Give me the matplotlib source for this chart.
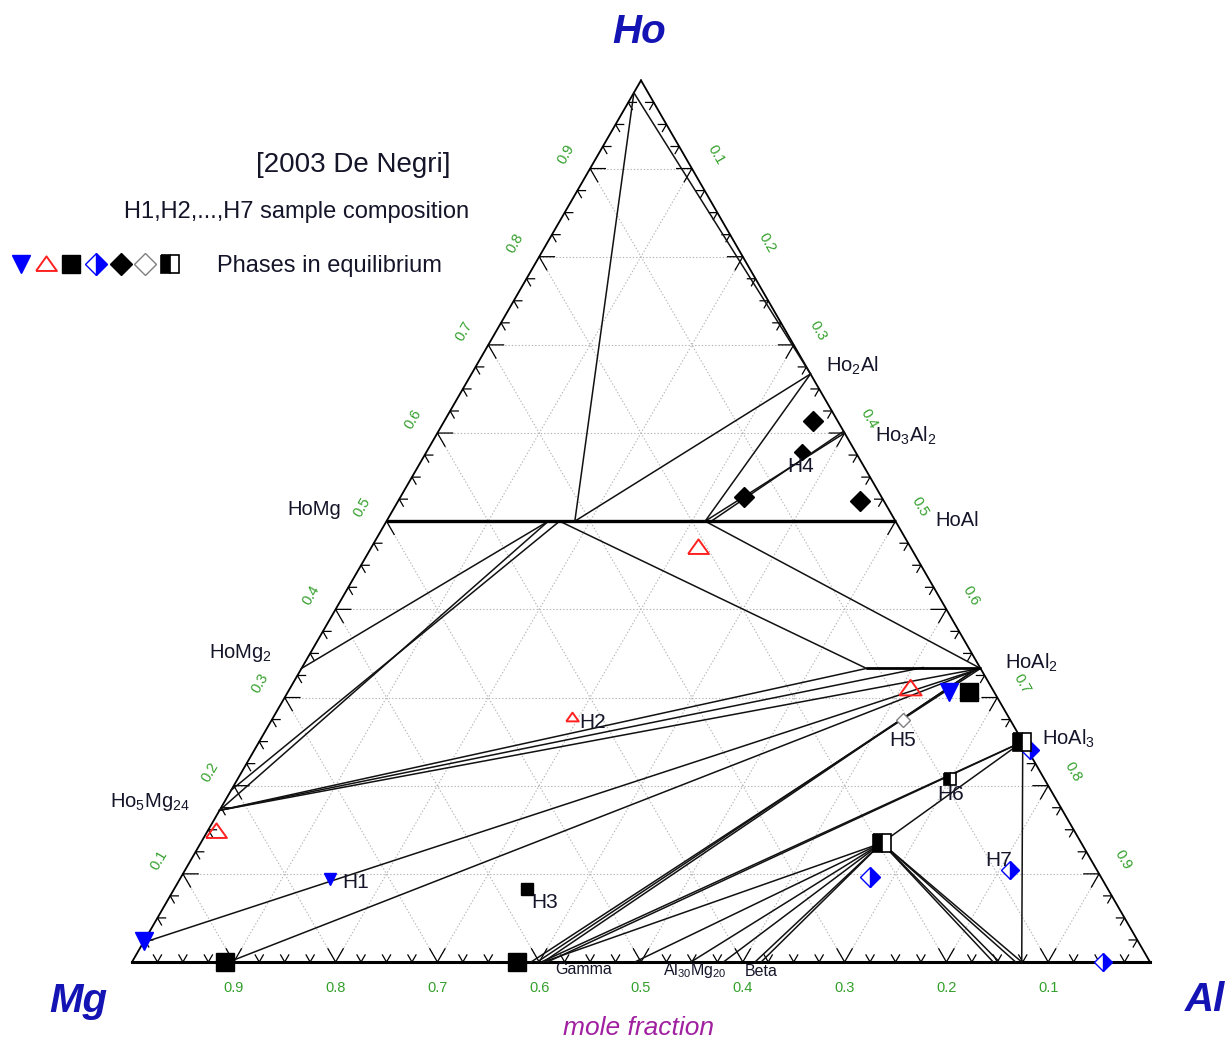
import numpy as np
import matplotlib
matplotlib.use("Agg")
import matplotlib.pyplot as plt
from matplotlib.lines import Line2D
from matplotlib.legend_handler import HandlerTuple

plt.rcParams['font.family'] = ['Liberation Sans', 'DejaVu Sans']
plt.rcParams['mathtext.default'] = 'regular'

# ---------------- data: compositions as (x_Ho, x_Al); x_Mg = 1 - x_Ho - x_Al ----------------
tick_values = [0.1, 0.2, 0.3, 0.4, 0.5, 0.6, 0.7, 0.8, 0.9]
tick_labels = ["0.1", "0.2", "0.3", "0.4", "0.5", "0.6", "0.7", "0.8", "0.9"]

# tie lines: from (ho, al) -> to (ho, al)
tie_from_ho = [0.986, 0.986, 0.667, 0.667, 0.500, 0.500, 0.500, 0.500, 0.333, 0.172, 0.195,
               0.172, 0.172, 0.172, 0.022, 0.000, 0.000, 0.000, 0.000, 0.000, 0.000, 0.000,
               0.000, 0.000, 0.000, 0.000, 0.000, 0.135, 0.135, 0.135, 0.135, 0.135, 0.250]
tie_from_al = [0.000, 0.000, 0.333, 0.333, 0.313, 0.319, 0.170, 0.313, 0.000, 0.000, 0.000,
               0.000, 0.000, 0.000, 0.000, 0.095, 0.392, 0.398, 0.404, 0.402, 0.408, 0.404,
               0.494, 0.549, 0.581, 0.612, 0.618, 0.669, 0.669, 0.669, 0.669, 0.669, 0.750]
tie_to_ho = [0.667, 0.500, 0.500, 0.500, 0.600, 0.602, 0.333, 0.333, 0.500, 0.500, 0.500,
             0.333, 0.334, 0.333, 0.333, 0.333, 0.333, 0.333, 0.331, 0.250, 0.249, 0.135,
             0.135, 0.135, 0.135, 0.135, 0.135, 0.250, 0.000, 0.000, 0.000, 0.000, 0.000]
tie_to_al = [0.333, 0.185, 0.185, 0.313, 0.400, 0.398, 0.555, 0.667, 0.159, 0.159, 0.170,
             0.555, 0.610, 0.667, 0.667, 0.667, 0.667, 0.664, 0.662, 0.750, 0.749, 0.669,
             0.669, 0.669, 0.669, 0.669, 0.669, 0.750, 0.846, 0.852, 0.868, 0.874, 0.874]

# bold phase-boundary lines (solid-solution ranges)
bold_from_ho = [0.500, 0.333]
bold_from_al = [0.000, 0.555]
bold_to_ho = [0.500, 0.333]
bold_to_al = [0.500, 0.667]

# experimental phases in equilibrium
blue_down_ho = [0.094, 0.024, 0.306]
blue_down_al = [0.1475, 0.000, 0.650]
red_up_ho = [0.4705, 0.311, 0.278, 0.1485]
red_up_al = [0.321, 0.609, 0.293, 0.008]
black_sq_ho = [0.000, 0.000, 0.0828, 0.306]
black_sq_al = [0.091, 0.378, 0.347, 0.669]
blue_half_ho = [0.0964, 0.104, 0.000, 0.2404]
blue_half_al = [0.677, 0.810, 0.954, 0.762]
black_dia_ho = [0.6134, 0.578, 0.527, 0.5227]
black_dia_al = [0.362, 0.369, 0.338, 0.454]
open_dia_ho = [0.274]
open_dia_al = [0.620]
half_sq_ho = [0.2494, 0.2075, 0.135]
half_sq_al = [0.750, 0.700, 0.669]

# marker sizes (style)
blue_down_ms = [9, 13, 13]
red_up_ms = [15, 16, 9, 15]
black_sq_ms = [12.5, 12.5, 9, 13.5]
blue_half_ms = [10.5, 9, 9.5, 9.5]
black_dia_ms = [10.5, 8, 10.5, 10.5]
open_dia_ms = [7]
half_sq_ms = [13.5, 8.5, 13.5]

# ---------------- geometry ----------------
S3 = np.sqrt(3) / 2


def cart(ho, al):
    ho = np.asarray(ho, float)
    al = np.asarray(al, float)
    return al + ho / 2, ho * S3


def px(x, y):
    return (x - 132) / 1018, (962 - y) / 1018


fig = plt.figure(figsize=(12.3, 10.44), dpi=100)
ax = fig.add_axes([0, 0, 1, 1])
ax.set_xlim(-132 / 1018, 1098 / 1018)
ax.set_ylim(-82 / 1018, 962 / 1018)
ax.set_aspect('equal')
ax.axis('off')

# grid
gcol = '#b4b4b4'
for v in tick_values:
    for (h1, a1, h2, a2) in [(v, 0, v, 1 - v), (0, v, 1 - v, v), (0, 1 - v, 1 - v, 0)]:
        x, y = cart([h1, h2], [a1, a2])
        ax.plot(x, y, color=gcol, lw=0.8, ls=(0, (1.2, 1.8)), zorder=1)

# edges
x, y = cart([0, 1], [0, 0])
ax.plot(x, y, color='black', lw=1.3, zorder=3)
x, y = cart([1, 0], [0, 1])
ax.plot(x, y, color='black', lw=1.3, zorder=3)
x, y = cart([0, 0], [0, 1])
ax.plot(x, y, color='black', lw=2.2, zorder=3)

# ticks
c60, s60 = 0.5, S3
for k in range(1, 40):
    v = k * 0.025
    L = 0.0150 if k % 4 == 0 else 0.0080
    bx, by = cart(0, v)
    ax.plot([bx - L * c60, bx, bx + L * c60], [by + L * s60, by, by + L * s60], color='black', lw=0.9, zorder=3)
    lx, ly = cart(v, 0)
    ax.plot([lx + L, lx, lx + L * c60], [ly, ly, ly - L * s60], color='black', lw=0.9, zorder=3)
    rx, ry = cart(v, 1 - v)
    ax.plot([rx - L, rx, rx - L * c60], [ry, ry, ry - L * s60], color='black', lw=0.9, zorder=3)

# tick labels
tcol = '#34a02c'
off = 0.0275
for v, lab in zip(tick_values, tick_labels):
    x0, y0 = cart(0, 1 - v)
    ax.text(x0, y0 - 0.0255, lab, color=tcol, fontsize=10.5, ha='center', va='center')
    x0, y0 = cart(v, 0)
    ax.text(x0 - off * S3, y0 + off * 0.5, lab, color=tcol, fontsize=10.5, ha='center', va='center', rotation=60)
    x0, y0 = cart(1 - v, v)
    ax.text(x0 + off * S3, y0 + off * 0.5, lab, color=tcol, fontsize=10.5, ha='center', va='center', rotation=-60)

# tie lines
for h1, a1, h2, a2 in zip(tie_from_ho, tie_from_al, tie_to_ho, tie_to_al):
    x, y = cart([h1, h2], [a1, a2])
    ax.plot(x, y, color='#111111', lw=1.1, zorder=4)
for h1, a1, h2, a2, w in zip(bold_from_ho, bold_from_al, bold_to_ho, bold_to_al, [2.4, 2.0]):
    x, y = cart([h1, h2], [a1, a2])
    ax.plot(x, y, color='black', lw=w, zorder=4, solid_capstyle='butt')

# markers
tri_up = [(-1, -0.62), (1, -0.62), (0, 0.78), (-1, -0.62)]


def draw(hos, als, sizes, **kw):
    for h, a, s in zip(hos, als, sizes):
        x, y = cart(h, a)
        ax.plot([x], [y], ls='none', markersize=s, zorder=6, **kw)


draw(blue_down_ho, blue_down_al, blue_down_ms, marker='v', color='#0000ff', markeredgecolor='#0000ff')
draw(red_up_ho, red_up_al, red_up_ms, marker=tri_up, markerfacecolor='none', markeredgecolor='#ff2020', markeredgewidth=1.4)
draw(black_sq_ho, black_sq_al, black_sq_ms, marker='s', color='black')
draw(blue_half_ho, blue_half_al, blue_half_ms, marker='D', fillstyle='right', markerfacecolor='#0000ff',
     markerfacecoloralt='white', markeredgecolor='#0000ff', markeredgewidth=1.0)
draw(black_dia_ho, black_dia_al, black_dia_ms, marker='D', color='black')
draw(open_dia_ho, open_dia_al, open_dia_ms, marker='D', markerfacecolor='white', markeredgecolor='#808080', markeredgewidth=1.0)
draw(half_sq_ho, half_sq_al, half_sq_ms, marker='s', fillstyle='left', markerfacecolor='black',
     markerfacecoloralt='white', markeredgecolor='black', markeredgewidth=1.2)

# compound labels
lc = '#15152a'
lfs = 14.5
ax.text(*px(826, 366), "Ho$_2$Al", fontsize=lfs, color=lc, ha='left', va='center')
ax.text(*px(875, 436), "Ho$_3$Al$_2$", fontsize=lfs, color=lc, ha='left', va='center')
ax.text(*px(935, 521), "HoAl", fontsize=lfs, color=lc, ha='left', va='center')
ax.text(*px(1005, 663), "HoAl$_2$", fontsize=lfs, color=lc, ha='left', va='center')
ax.text(*px(1042, 739), "HoAl$_3$", fontsize=lfs, color=lc, ha='left', va='center')
ax.text(*px(341, 510), "HoMg", fontsize=lfs, color=lc, ha='right', va='center')
ax.text(*px(272, 653), "HoMg$_2$", fontsize=lfs, color=lc, ha='right', va='center')
ax.text(*px(190, 802), "Ho$_5$Mg$_{24}$", fontsize=lfs, color=lc, ha='right', va='center')
ax.text(*px(555, 970), "Gamma", fontsize=11.5, color=lc, ha='left', va='center')
ax.text(*px(663, 970), "Al$_{30}$Mg$_{20}$", fontsize=11.5, color=lc, ha='left', va='center')
ax.text(*px(745, 972), "Beta", fontsize=11.5, color=lc, ha='left', va='center')

# sample labels
hfs = 15
for name, (xx, yy) in zip(["H1", "H2", "H3", "H4", "H5", "H6", "H7"],
                          [(342, 882), (579, 723), (531, 903), (787, 467), (889, 741), (937, 794), (985, 860)]):
    ax.text(*px(xx, yy), name, fontsize=hfs, color=lc, ha='left', va='center', zorder=7)

# corner labels
ccol = '#1414b4'
ax.text(*px(639, 32), "Ho", fontsize=29, color=ccol, fontweight='bold', fontstyle='italic', ha='center', va='center')
ax.text(*px(78, 1001), "Mg", fontsize=29, color=ccol, fontweight='bold', fontstyle='italic', ha='center', va='center')
ax.text(*px(1205, 1000), "Al", fontsize=29, color=ccol, fontweight='bold', fontstyle='italic', ha='center', va='center')
ax.text(*px(638, 1028), "mole fraction", fontsize=19, color='#a020a0', fontstyle='italic', ha='center', va='center')

# header / legend
ax.text(*px(353, 165), "[2003 De Negri]", fontsize=20, color=lc, ha='center', va='center')
ax.text(*px(297, 212), "H1,H2,...,H7 sample composition", fontsize=17, color=lc, ha='center', va='center')

hnd = (
    Line2D([], [], ls='none', marker='v', color='#0000ff', markersize=13),
    Line2D([], [], ls='none', marker=tri_up, markerfacecolor='none', markeredgecolor='#ff2020', markeredgewidth=1.4, markersize=15),
    Line2D([], [], ls='none', marker='s', color='black', markersize=13),
    Line2D([], [], ls='none', marker='D', fillstyle='right', markerfacecolor='#0000ff', markerfacecoloralt='white',
           markeredgecolor='#0000ff', markersize=11),
    Line2D([], [], ls='none', marker='D', color='black', markersize=11),
    Line2D([], [], ls='none', marker='D', markerfacecolor='white', markeredgecolor='#808080', markersize=11),
    Line2D([], [], ls='none', marker='s', fillstyle='left', markerfacecolor='black', markerfacecoloralt='white',
           markeredgecolor='black', markeredgewidth=1.2, markersize=12.5),
)
leg = ax.legend([hnd], ["Phases in equilibrium"], handler_map={tuple: HandlerTuple(ndivide=None, pad=0.25)},
                loc='center left', bbox_to_anchor=(12 / 1230, 1 - 266 / 1044), bbox_transform=fig.transFigure,
                frameon=False, fontsize=17, handlelength=7.1, handletextpad=1.6, borderpad=0, borderaxespad=0)
for t in leg.get_texts():
    t.set_color(lc)

fig.savefig("out.png", dpi=100)
